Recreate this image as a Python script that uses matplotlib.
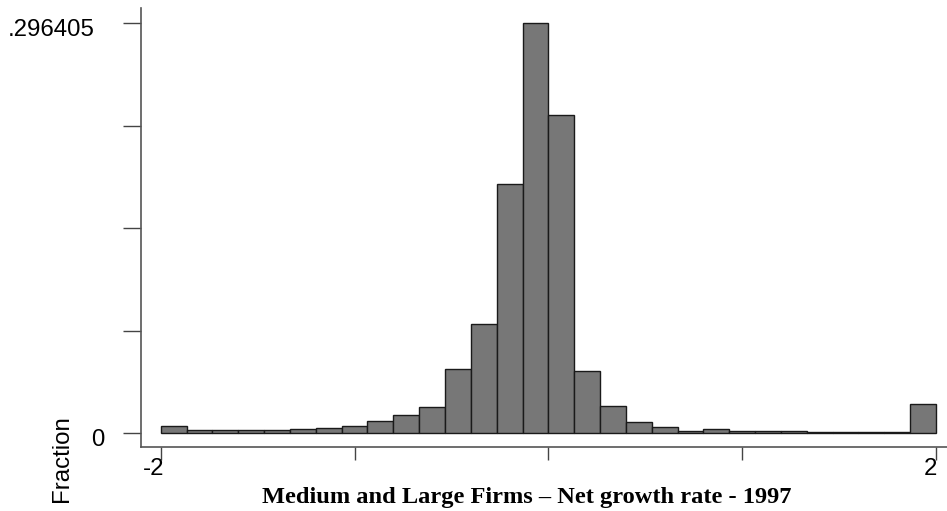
import numpy as np
import matplotlib.pyplot as plt

# histogram of net growth rate, 30 bins over [-2, 2]
bin_lo = -2.0
bin_hi = 2.0
fraction = [0.0053, 0.0020, 0.0020, 0.0020, 0.0020, 0.0027, 0.0038, 0.0048,
            0.0087, 0.0128, 0.0188, 0.0465, 0.0788, 0.1800, 0.296405, 0.2297,
            0.0446, 0.0193, 0.0077, 0.0041, 0.0017, 0.0027, 0.0017, 0.0017,
            0.0017, 0.0007, 0.0007, 0.0007, 0.0007, 0.0207]
ymax = 0.296405
xlabels = ['-2', '2']
title = 'Medium and Large Firms \u2013 Net growth rate - 1997'

W, H = 947, 511
fig = plt.figure(figsize=(W / 100, H / 100), dpi=100)
ax = fig.add_axes([141 / W, 1 - 447 / H, (W - 141) / W, (447 - 8) / H])

edges = np.linspace(bin_lo, bin_hi, len(fraction) + 1)
width = edges[1] - edges[0]
ax.bar(edges[:-1], fraction, width=width, align='edge',
       color='#777777', edgecolor='#1a1a1a', linewidth=1.0)

# pixel mapping: -2 -> 160.7, 2 -> 936 ; 0 -> 433, ymax -> 23
ppx = (936 - 160.7) / 4
ax.set_xlim(-2 - (160.7 - 141) / ppx, 2 + (W - 936) / ppx)
ppy = (433 - 23) / ymax
ax.set_ylim(-(447 - 433) / ppy, ymax + (23 - 8) / ppy)

for s in ['top', 'right']:
    ax.spines[s].set_visible(False)
for s in ['left', 'bottom']:
    ax.spines[s].set_color('#555555')
    ax.spines[s].set_linewidth(1.2)

ax.set_yticks([0, ymax / 4, ymax / 2, 3 * ymax / 4, ymax])
ax.set_yticklabels([])
ax.set_xticks([-2, -1, 0, 1, 2])
ax.set_xticklabels([])
ax.tick_params(axis='y', direction='out', length=13, width=1.0, color='#444444')
ax.tick_params(axis='x', direction='out', length=9, width=1.0, color='#444444')

lab = dict(fontsize=17.3, family=['Liberation Sans', 'DejaVu Sans'], color='black')
fig.text(95 / W, 1 - 30 / H, '.296405', ha='right', va='center', **lab)
fig.text(104 / W, 1 - 440 / H, '0', ha='right', va='center', **lab)
fig.text(154 / W, 1 - 469 / H, xlabels[0], ha='center', va='center', **lab)
fig.text(937 / W, 1 - 469 / H, xlabels[1], ha='right', va='center', **lab)
fig.text(62 / W, 1 - 502 / H, 'Fraction', rotation=90, ha='center', va='bottom', **lab)

fig.text(527 / W, 1 - 497 / H, title, ha='center', va='center',
         fontsize=17.6, fontweight='bold', family=['Liberation Serif', 'DejaVu Serif'])

fig.savefig('out.png', dpi=100)
